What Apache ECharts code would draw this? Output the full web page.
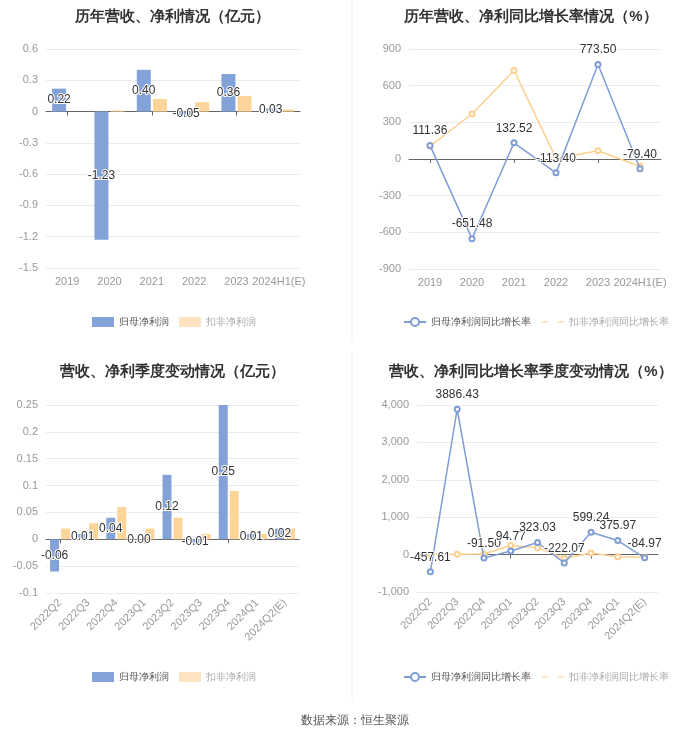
<!DOCTYPE html>
<html>
<head>
<meta charset="utf-8">
<script src="https://cdn.jsdelivr.net/npm/echarts@6/dist/echarts.min.js"></script>
<style>
html,body{margin:0;padding:0;background:#fff;}
#main{width:700px;height:734px;}
</style>
</head>
<body>
<div id="main"></div>
<script>
// ---- Data ----
var yearCats = ['2019', '2020', '2021', '2022', '2023', '2024H1(E)'];
var yearNetProfit = [0.22, -1.23, 0.40, -0.05, 0.36, 0.03];
var yearDeductProfit = [0, 0.01, 0.12, 0.09, 0.15, 0.02];
var yearNetGrowth = [111.36, -651.48, 132.52, -113.40, 773.50, -79.40];
var yearDeductGrowth = [105, 368, 724, 5, 68, -59];

var quarterCats = ['2022Q2', '2022Q3', '2022Q4', '2023Q1', '2023Q2', '2023Q3', '2023Q4', '2024Q1', '2024Q2(E)'];
var quarterNetProfit = [-0.06, 0.01, 0.04, 0.00, 0.12, -0.01, 0.25, 0.01, 0.02];
var quarterDeductProfit = [0.02, 0.03, 0.06, 0.02, 0.04, 0.01, 0.09, 0.01, 0.02];
var quarterNetGrowth = [-457.61, 3886.43, -91.50, 94.77, 323.03, -222.07, 599.24, 375.97, -84.97];
var quarterDeductGrowth = [5, 10, 15, 245, 180, -95, 45, -60, -70];

var titles = ['历年营收、净利情况（亿元）', '历年营收、净利同比增长率情况（%）', '营收、净利季度变动情况（亿元）', '营收、净利同比增长率季度变动情况（%）'];
var nameNet = '归母净利润';
var nameDeduct = '扣非净利润';
var nameNetG = '归母净利润同比增长率';
var nameDeductG = '扣非净利润同比增长率';
var sourceText = '数据来源：恒生聚源';

// ---- Styles ----
var BLUE = '#82a2d8';
var ORANGE = '#fdd598';
var BLUE_LINE = '#7f9dd5';
var ORANGE_LINE = '#fdd08f';
var AXIS_GRAY = '#999';

var chart = echarts.init(document.getElementById('main'));

var grids = [
  {left: 46, top: 49, width: 254, height: 219},
  {left: 409, top: 49, width: 252, height: 220},
  {left: 46, top: 405, width: 253, height: 188},
  {left: 417, top: 405, width: 241, height: 187}
];

function xAxesFor(gi, cats, rotate) {
  return [
    { // zero line + ticks
      type: 'category', gridIndex: gi, data: cats, position: 'bottom',
      axisLine: {onZero: true, lineStyle: {color: '#666', width: 1}},
      axisTick: {show: true, alignWithLabel: true, length: 4, lineStyle: {color: '#666'}},
      axisLabel: {show: false},
      splitLine: {show: false}
    },
    { // labels at bottom
      type: 'category', gridIndex: gi, data: cats, position: 'bottom',
      axisLine: {show: false, onZero: false},
      axisTick: {show: false},
      axisLabel: {show: true, color: AXIS_GRAY, fontSize: 11, rotate: rotate, margin: 8, interval: 0},
      splitLine: {show: false}
    }
  ];
}

function yAxisFor(gi, min, max, interval) {
  return {
    type: 'value', gridIndex: gi, min: min, max: max, interval: interval,
    axisLine: {show: false}, axisTick: {show: false},
    axisLabel: {color: AXIS_GRAY, fontSize: 11, margin: 8},
    splitLine: {lineStyle: {color: '#ececec'}}
  };
}

var barLabel = {
  show: true, position: 'inside', color: '#333', fontSize: 12,
  textBorderColor: '#fff', textBorderWidth: 2,
  formatter: function (p) { return p.value.toFixed(2); }
};
var lineLabel = {
  show: true, position: 'top', color: '#333', fontSize: 12,
  textBorderColor: '#fff', textBorderWidth: 2,
  formatter: function (p) { return p.value.toFixed(2); }
};

function titleAt(text, x, y) {
  return {text: text, left: x, top: y, textAlign: 'center',
    textStyle: {fontSize: 15, fontWeight: 'bold', color: '#333'}};
}

function barLegend(left, top) {
  return {
    left: left, top: top, padding: 0, itemWidth: 22, itemHeight: 10, itemGap: 10, icon: 'rect',
    textStyle: {fontSize: 10, color: '#555'},
    data: [
      {name: nameNet, textStyle: {color: '#555'}},
      {name: nameDeduct, itemStyle: {color: '#fde3c0'}, textStyle: {color: '#aaa'}}
    ]
  };
}
function lineLegend(left, top) {
  return {
    left: left, top: top, padding: 0, itemWidth: 22, itemHeight: 10, itemGap: 10,
    textStyle: {fontSize: 10, color: '#555'},
    data: [
      {name: nameNetG, textStyle: {color: '#555'}},
      {name: nameDeductG, itemStyle: {color: '#fff', borderColor: '#fde6c8'}, lineStyle: {color: '#fde6c8'}, textStyle: {color: '#aaa'}}
    ]
  };
}

var option = {
  animation: false,
  backgroundColor: '#fff',
  title: [
    titleAt(titles[0], 167, 4),
    titleAt(titles[1], 526, 4),
    titleAt(titles[2], 167, 359),
    titleAt(titles[3], 526, 359),
    {text: sourceText, left: 350, top: 710, textAlign: 'center',
      textStyle: {fontSize: 12, fontWeight: 'normal', color: '#555'}}
  ],
  legend: [
    barLegend(92, 317),
    lineLegend(403, 317),
    barLegend(92, 672),
    lineLegend(403, 672)
  ],
  grid: grids,
  xAxis: [].concat(
    xAxesFor(0, yearCats, 0),
    xAxesFor(1, yearCats, 0),
    xAxesFor(2, quarterCats, 45),
    xAxesFor(3, quarterCats, 45)
  ),
  yAxis: [
    yAxisFor(0, -1.5, 0.6, 0.3),
    yAxisFor(1, -900, 900, 300),
    yAxisFor(2, -0.1, 0.25, 0.05),
    yAxisFor(3, -1000, 4000, 1000)
  ],
  graphic: [
    {type: 'line', shape: {x1: 352, y1: 0, x2: 352, y2: 342}, style: {stroke: '#f0f0f0', lineWidth: 1}},
    {type: 'line', shape: {x1: 352, y1: 352, x2: 352, y2: 700}, style: {stroke: '#f0f0f0', lineWidth: 1}}
  ],
  series: [
    {name: nameNet, type: 'bar', xAxisIndex: 0, yAxisIndex: 0, data: yearNetProfit,
      barWidth: 14, barGap: '15%', itemStyle: {color: BLUE}, label: barLabel, z: 3},
    {name: nameDeduct, type: 'bar', xAxisIndex: 0, yAxisIndex: 0, data: yearDeductProfit,
      barWidth: 14, barGap: '15%', itemStyle: {color: ORANGE}},
    {name: nameNetG, type: 'line', xAxisIndex: 2, yAxisIndex: 1, data: yearNetGrowth,
      symbol: 'emptyCircle', symbolSize: 5, itemStyle: {color: BLUE_LINE}, lineStyle: {color: BLUE_LINE, width: 1.5},
      label: lineLabel, z: 4},
    {name: nameDeductG, type: 'line', xAxisIndex: 2, yAxisIndex: 1, data: yearDeductGrowth,
      symbol: 'emptyCircle', symbolSize: 5, itemStyle: {color: ORANGE_LINE}, lineStyle: {color: ORANGE_LINE, width: 1.5}, z: 3},
    {name: nameNet, type: 'bar', xAxisIndex: 4, yAxisIndex: 2, data: quarterNetProfit,
      barWidth: 9, barGap: '22%', itemStyle: {color: BLUE}, label: barLabel, z: 3},
    {name: nameDeduct, type: 'bar', xAxisIndex: 4, yAxisIndex: 2, data: quarterDeductProfit,
      barWidth: 9, barGap: '22%', itemStyle: {color: ORANGE}},
    {name: nameNetG, type: 'line', xAxisIndex: 6, yAxisIndex: 3, data: quarterNetGrowth,
      symbol: 'emptyCircle', symbolSize: 5, itemStyle: {color: BLUE_LINE}, lineStyle: {color: BLUE_LINE, width: 1.5},
      label: lineLabel, z: 4},
    {name: nameDeductG, type: 'line', xAxisIndex: 6, yAxisIndex: 3, data: quarterDeductGrowth,
      symbol: 'emptyCircle', symbolSize: 5, itemStyle: {color: ORANGE_LINE}, lineStyle: {color: ORANGE_LINE, width: 1.5}, z: 3}
  ]
};
chart.setOption(option);
</script>
</body>
</html>
